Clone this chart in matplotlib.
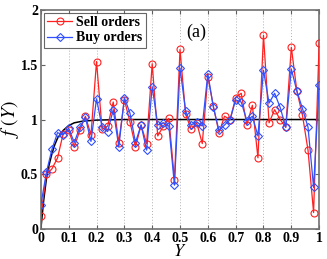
import matplotlib
import numpy as np

matplotlib.use("Agg")
import matplotlib.pyplot as plt

# 数据：横坐标 Y（步长 0.02），以及卖单/买单的 f(Y)
Y_VALUES = [round(0.02 * i, 2) for i in range(51)]

SELL_VALUES = [
    0.12, 0.50, 0.55, 0.65, 0.87, 0.90, 0.75, 0.90, 1.03, 0.86,
    1.53, 0.91, 0.94, 1.16, 0.79, 1.18, 0.98, 0.75, 0.95, 0.78,
    1.51, 0.85, 0.94, 1.01, 0.45, 1.64, 1.05, 0.91, 0.97, 0.78,
    1.39, 1.12, 0.88, 1.03, 1.00, 1.20, 1.24, 0.95, 1.13, 0.65,
    1.77, 0.97, 1.09, 1.00, 0.93, 1.66, 1.26, 1.04, 0.72, 0.15,
    1.70,
]

BUY_VALUES = [
    0.22, 0.52, 0.73, 0.88, 0.86, 0.92, 0.79, 0.93, 1.02, 0.80,
    1.19, 0.93, 0.89, 1.09, 0.75, 1.20, 1.06, 0.79, 0.95, 0.72,
    1.30, 0.95, 0.97, 0.94, 0.40, 1.47, 1.08, 0.95, 0.98, 0.94,
    1.42, 1.11, 0.90, 0.95, 1.00, 1.18, 1.16, 0.99, 1.03, 0.85,
    1.45, 1.15, 1.24, 1.11, 0.93, 1.46, 1.26, 1.10, 0.93, 0.38,
    1.32,
]

# 理论曲线（从图上读取的采样点）
CURVE_X = [0.0, 0.01, 0.02, 0.03, 0.04, 0.05, 0.06, 0.08, 0.10, 0.12, 0.15, 0.20, 0.30, 1.0]
CURVE_Y = [0.0, 0.26, 0.46, 0.59, 0.69, 0.77, 0.83, 0.90, 0.945, 0.97, 0.985, 0.995, 1.0, 1.0]

X_TICKS = [0, 0.1, 0.2, 0.3, 0.4, 0.5, 0.6, 0.7, 0.8, 0.9, 1]
X_TICK_LABELS = ["0", "0.1", "0.2", "0.3", "0.4", "0.5", "0.6", "0.7", "0.8", "0.9", "1"]
Y_TICKS = [0, 0.5, 1, 1.5, 2]
Y_TICK_LABELS = ["0", "0.5", "1", "1.5", "2"]

plt.rcParams["font.family"] = ["Liberation Serif", "DejaVu Serif"]
plt.rcParams["mathtext.fontset"] = "stix"

fig = plt.figure(figsize=(3.27, 2.59), dpi=100)
ax = fig.add_axes([0.125, 0.116, 0.851, 0.845])

# 竖直虚线网格
for x in X_TICKS[1:-1]:
    ax.axvline(x, color="#b0b0b0", linestyle=(0, (1, 2)), linewidth=0.7, zorder=0)

ax.plot(CURVE_X, CURVE_Y, color="black", linewidth=1.1, zorder=2)
ax.plot(
    Y_VALUES, SELL_VALUES, color="#ff2020", linewidth=0.9, marker="o",
    markersize=5, markerfacecolor="none", markeredgewidth=0.8,
    label="Sell orders", zorder=3,
)
ax.plot(
    Y_VALUES, BUY_VALUES, color="#3050ff", linewidth=0.9, marker="D",
    markersize=4, markerfacecolor="none", markeredgewidth=0.8,
    label="Buy orders", zorder=4,
)

ax.set_xlim(0, 1)
ax.set_ylim(0, 2)
ax.set_xticks(X_TICKS)
ax.set_xticklabels(X_TICK_LABELS, fontweight="bold", fontsize=10)
ax.set_yticks(Y_TICKS)
ax.set_yticklabels(Y_TICK_LABELS, fontweight="bold", fontsize=10)
ax.tick_params(direction="in", length=3, width=0.8, color="#606060", top=True, right=True, pad=2)
for spine in ax.spines.values():
    spine.set_color("#707070")
    spine.set_linewidth(1.2)

ax.set_xlabel(r"$Y$", fontsize=13)
ax.xaxis.set_label_coords(0.5, -0.065)
ax.set_ylabel(r"$f\ (Y)$", fontsize=14)
ax.yaxis.set_label_coords(-0.07, 0.5)
ax.text(0.56, 1.8, "(a)", fontsize=13, ha="center", va="center")

legend = ax.legend(
    loc="upper left", prop={"weight": "bold", "size": 10}, frameon=True,
    fancybox=False, edgecolor="#404040", borderpad=0.25, handlelength=1.8,
    handletextpad=0.3, labelspacing=0.15, borderaxespad=0.2,
)
legend.get_frame().set_linewidth(0.8)

fig.savefig("out.png", dpi=100)
